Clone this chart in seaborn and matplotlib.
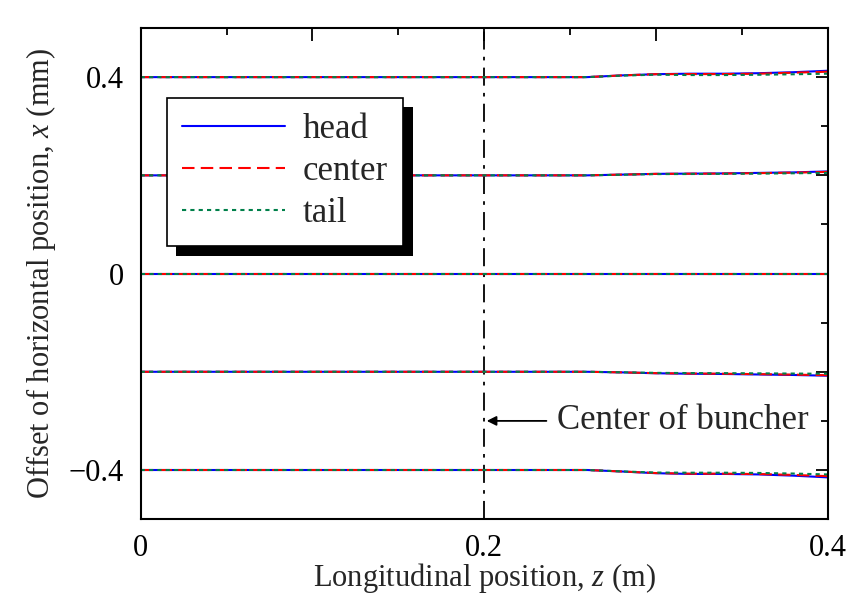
import numpy as np
import pandas as pd
import matplotlib
matplotlib.use("Agg")
import matplotlib.pyplot as plt
import matplotlib.patheffects as pe
from matplotlib.ticker import MultipleLocator, FuncFormatter
from matplotlib.lines import Line2D
import seaborn as sns

# ---- data ----
z = [0.0, 0.05, 0.10, 0.15, 0.20, 0.25, 0.26, 0.28, 0.30, 0.32, 0.34, 0.36, 0.38, 0.40]
offsets = [0.4, 0.2, 0.0, -0.2, -0.4]
# deviation from the nominal offset (mm) for the +0.4 mm beam
dev_head_04   = [0, 0, 0, 0, 0, 0, 0.0, 0.0035, 0.0060, 0.0070, 0.0070, 0.0080, 0.0100, 0.0130]
dev_center_04 = [0, 0, 0, 0, 0, 0, 0.0, 0.0035, 0.0060, 0.0062, 0.0062, 0.0070, 0.0090, 0.0110]
dev_tail_04   = [0, 0, 0, 0, 0, 0, 0.0, 0.0030, 0.0050, 0.0042, 0.0042, 0.0048, 0.0058, 0.0070]
# deviation for the +0.2 mm beam
dev_head_02   = [0, 0, 0, 0, 0, 0, 0.0, 0.0015, 0.0030, 0.0035, 0.0040, 0.0050, 0.0060, 0.0080]
dev_center_02 = [0, 0, 0, 0, 0, 0, 0.0, 0.0015, 0.0030, 0.0033, 0.0037, 0.0045, 0.0055, 0.0070]
dev_tail_02   = [0, 0, 0, 0, 0, 0, 0.0, 0.0012, 0.0025, 0.0027, 0.0030, 0.0035, 0.0042, 0.0050]
# deviation for the -0.2 mm beam
dev_head_m02   = [0, 0, 0, 0, 0, 0, 0.0, -0.0012, -0.0030, -0.0040, -0.0045, -0.0055, -0.0065, -0.0080]
dev_center_m02 = [0, 0, 0, 0, 0, 0, 0.0, -0.0012, -0.0028, -0.0036, -0.0040, -0.0048, -0.0058, -0.0070]
dev_tail_m02   = [0, 0, 0, 0, 0, 0, 0.0, -0.0010, -0.0022, -0.0026, -0.0028, -0.0032, -0.0036, -0.0040]
# deviation for the -0.4 mm beam
dev_head_m04   = [0, 0, 0, 0, 0, 0, 0.0, -0.0030, -0.0065, -0.0080, -0.0080, -0.0090, -0.0115, -0.0150]
dev_center_m04 = [0, 0, 0, 0, 0, 0, 0.0, -0.0030, -0.0062, -0.0075, -0.0075, -0.0082, -0.0100, -0.0125]
dev_tail_m04   = [0, 0, 0, 0, 0, 0, 0.0, -0.0028, -0.0052, -0.0055, -0.0055, -0.0060, -0.0072, -0.0090]
dev_zero = [0] * len(z)

series_names = ["head", "center", "tail"]
devs = {
    0.4:  [dev_head_04, dev_center_04, dev_tail_04],
    0.2:  [dev_head_02, dev_center_02, dev_tail_02],
    0.0:  [dev_zero, dev_zero, dev_zero],
    -0.2: [dev_head_m02, dev_center_m02, dev_tail_m02],
    -0.4: [dev_head_m04, dev_center_m04, dev_tail_m04],
}

rows = []
for gi, off in enumerate(offsets):
    for name, d in zip(series_names, devs[off]):
        for zz, dd in zip(z, d):
            rows.append({"z": zz, "x": off + dd, "series": name, "group": gi})
df = pd.DataFrame(rows)

buncher_center = 0.2

# ---- style ----
sns.set_theme(style="white")
plt.rcParams["font.family"] = ["Liberation Serif", "DejaVu Serif"]
plt.rcParams["mathtext.fontset"] = "custom"
plt.rcParams["mathtext.rm"] = "Liberation Serif"
plt.rcParams["mathtext.it"] = "Liberation Serif:italic"

fig = plt.figure(figsize=(8.63, 5.96), dpi=100)
ax = fig.add_axes([0.163, 0.129, 0.796, 0.824])

palette = {"head": "#0000ff", "center": "#ff0000", "tail": "#00804a"}
dashes = {"head": "", "center": (6, 3), "tail": (2, 2)}

sns.lineplot(data=df, x="z", y="x", hue="series", style="series", units="group",
             estimator=None, palette=palette, dashes=dashes, linewidth=1.5,
             hue_order=series_names, style_order=series_names, ax=ax, legend=False,
             sort=False)

ax.axvline(buncher_center, color="black", lw=1.3, ls=(0, (10, 4, 2, 4)), zorder=1)

ax.set_xlim(0, 0.4)
ax.set_ylim(-0.5, 0.5)

ax.xaxis.set_major_locator(MultipleLocator(0.1))
ax.xaxis.set_minor_locator(MultipleLocator(0.05))
ax.yaxis.set_major_locator(MultipleLocator(0.2))
ax.yaxis.set_minor_locator(MultipleLocator(0.1))

def xfmt(v, pos):
    r = round(v, 3)
    if abs(r) < 1e-9:
        return "0"
    if abs(round(r / 0.2) * 0.2 - r) < 1e-6:
        return f"{r:.1f}"
    return ""

def yfmt(v, pos):
    r = round(v, 3)
    if abs(r) < 1e-9:
        return "0"
    if abs(round(r / 0.4) * 0.4 - r) < 1e-6:
        return f"{r:.1f}".replace("-", "\u2212")
    return ""

ax.xaxis.set_major_formatter(FuncFormatter(xfmt))
ax.yaxis.set_major_formatter(FuncFormatter(yfmt))

ax.tick_params(which="both", direction="in", top=True, right=True, colors="black",
               labelsize=22, width=1.3)
ax.tick_params(which="major", length=9)
ax.tick_params(axis="y", which="major", pad=12)
ax.tick_params(axis="x", which="major", pad=11)
ax.tick_params(which="minor", length=5)
for s in ax.spines.values():
    s.set_color("black")
    s.set_linewidth(1.5)

ax.set_xlabel("Longitudinal position, $z$ (m)", fontsize=22, labelpad=-2)
ax.set_ylabel("Offset of horizontal position, $x$ (mm)", fontsize=22, labelpad=8)

# legend
handles = [Line2D([], [], color=palette[n], lw=1.5,
                  ls="-" if n == "head" else ((0, (6, 3)) if n == "center" else (0, (2, 2))))
           for n in series_names]
leg = ax.legend(handles, series_names, loc="upper left", bbox_to_anchor=(0.038, 0.858),
                fontsize=25, frameon=True, fancybox=False, edgecolor="black",
                framealpha=1, handlelength=2.95, handletextpad=0.5, borderpad=0.45,
                labelspacing=0.26, borderaxespad=0)
frame = leg.get_frame()
frame.set_linewidth(1.2)
frame.set_path_effects([pe.SimplePatchShadow(offset=(7, -7), shadow_rgbFace="black", alpha=1),
                        pe.Normal()])

# annotation
ax.annotate("Center of buncher", xy=(0.2015, -0.3), xytext=(0.2422, -0.3),
            fontsize=25, va="center", ha="left",
            arrowprops=dict(arrowstyle="-|>", color="black", lw=1.3,
                            mutation_scale=14, shrinkA=5, shrinkB=0))

fig.savefig("out.png", dpi=100)
